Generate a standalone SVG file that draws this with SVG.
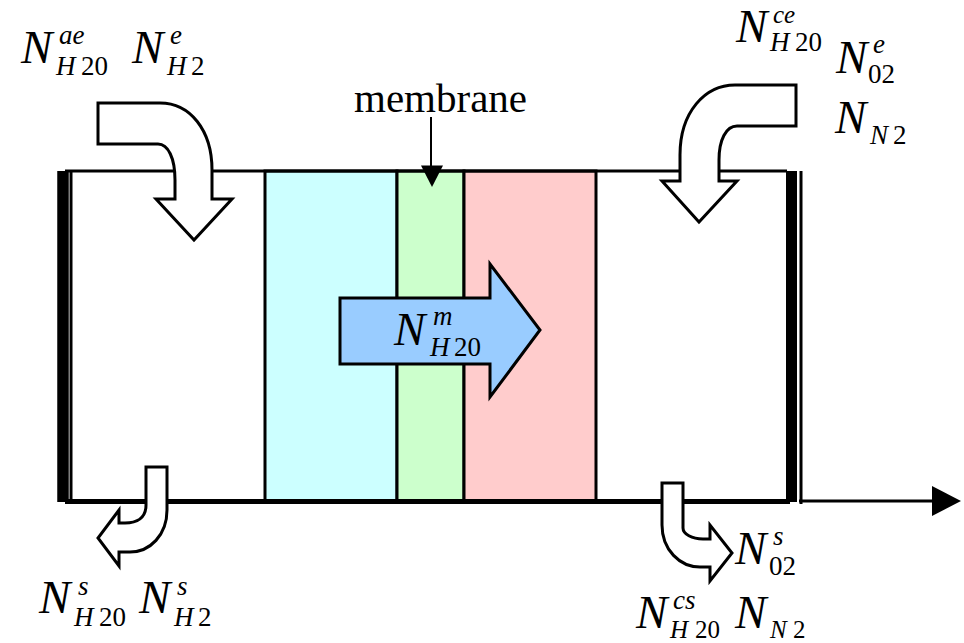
<svg xmlns="http://www.w3.org/2000/svg" width="964" height="643" viewBox="0 0 964 643">
<style>
.l{font-family:"Liberation Serif","Times New Roman",serif;fill:#000}
.n{font-size:47px;font-style:italic}
.s{font-size:27px;font-style:italic}
.d{font-size:27px}
.fit{font-size:25px}
.m{font-size:41px}
.flow{fill:#fff;stroke:#000;stroke-width:3;stroke-linejoin:miter}
.reg{stroke:#000;stroke-width:3}
</style>
<defs>
<marker id="head" markerUnits="userSpaceOnUse" markerWidth="30" markerHeight="30" refX="0" refY="15" orient="auto"><path d="M0 0L29 15L0 30Z" fill="#000"/></marker>
</defs>
<rect width="964" height="643" fill="#fff"/>
<g id="regions">
<rect id="anode" class="reg" x="265" y="171" width="132" height="331" fill="#CCFFFF"/>
<rect id="membrane-layer" class="reg" x="397" y="171" width="67" height="331" fill="#CCFFCC"/>
<rect id="cathode" class="reg" x="464" y="171" width="132" height="331" fill="#FFCCCC"/>
</g>
<g id="connectors" fill="none" stroke="#000">
<path d="M65 171H787" stroke-width="3"/>
<path d="M65 501.500H790" stroke-width="5"/>
<path d="M63 171V502" stroke-width="11.500"/>
<path d="M71 171V502" stroke-width="3"/>
<path d="M791.500 171V502" stroke-width="11"/>
<path d="M801 171V504" stroke-width="3"/>
<path d="M799 501H932" stroke-width="3" marker-end="url(#head)"/>
<path d="M431 117V170" stroke-width="2"/>
<path d="M421 165.500H443L432 187Z" fill="#000" stroke="none"/>
</g>
<g id="flow-anode-in"><path class="flow" d="M98 103H160C190 103 212 130 212 170V199H232L194 240L156 199H175V180C175 158 168 144 158 144H98Z"/></g>
<g id="flow-cathode-in"><path class="flow" d="M796 85H735C705 85 680 112 680 155V181H662L699 222L737 181H719V160C719 140 726 126 737 126H796Z"/></g>
<g id="flow-anode-out"><path class="flow" d="M146 467H167V510C167 535 150 552 130 552H119V566L98 538L119 510V523H125C137 523 146 518 146 505Z"/></g>
<g id="flow-cathode-out"><path class="flow" d="M662 483H683V528C683 534 692 539 703 539H710V525L732 553L710 581V567H700C680 567 662 550 662 525Z"/></g>
<g id="flow-membrane"><path d="M340 298H490V264L540 330L490 397V364H340Z" fill="#99CCFF" stroke="#000" stroke-width="3"/></g>
<g id="label-membrane"><text class="l m" x="354" y="112">membrane</text></g>
<g id="label-Nae-H20" class="l"><text class="n" x="21" y="63">N</text><text class="s" x="59" y="44">ae</text><text class="s" x="56" y="75">H</text><text class="d" x="81" y="75">20</text></g>
<g id="label-Ne-H2" class="l"><text class="n" x="132" y="63">N</text><text class="s" x="170" y="44">e</text><text class="s" x="167" y="75">H</text><text class="d" x="191" y="75">2</text></g>
<g id="label-Nce-H20" class="l"><text class="n" x="736" y="42">N</text><text class="s fit" x="773" y="22.500">ce</text><text class="s" x="770" y="51">H</text><text class="d" x="795" y="51">20</text></g>
<g id="label-Ne-02" class="l"><text class="n" x="836" y="73">N</text><text class="s" x="873" y="53">e</text><text class="d" x="868" y="83">02</text></g>
<g id="label-N-N2-top" class="l"><text class="n" x="835" y="133">N</text><text class="s" x="870" y="144">N</text><text class="d" x="893" y="144">2</text></g>
<g id="label-Ns-H20" class="l"><text class="n" x="39" y="613">N</text><text class="s" x="78" y="595">s</text><text class="s" x="74" y="626">H</text><text class="d" x="99" y="626">20</text></g>
<g id="label-Ns-H2" class="l"><text class="n" x="139" y="613">N</text><text class="s" x="177" y="595">s</text><text class="s" x="174" y="626">H</text><text class="d" x="198" y="626">2</text></g>
<g id="label-Ns-02" class="l"><text class="n" x="735" y="564">N</text><text class="s" x="773" y="545">s</text><text class="d" x="769" y="575">02</text></g>
<g id="label-Ncs-H20" class="l"><text class="n" x="636" y="628">N</text><text class="s" x="673" y="609">cs</text><text class="s fit" x="670" y="637.500">H</text><text class="d fit" x="695" y="637.500">20</text></g>
<g id="label-N-N2-bottom" class="l"><text class="n" x="735" y="628">N</text><text class="s fit" x="770" y="637.500">N</text><text class="d fit" x="793" y="637.500">2</text></g>
<g id="label-Nm-H20" class="l"><text class="n" x="394" y="345">N</text><text class="s" x="433" y="325">m</text><text class="s" x="430" y="356">H</text><text class="d" x="454" y="356">20</text></g>
</svg>
